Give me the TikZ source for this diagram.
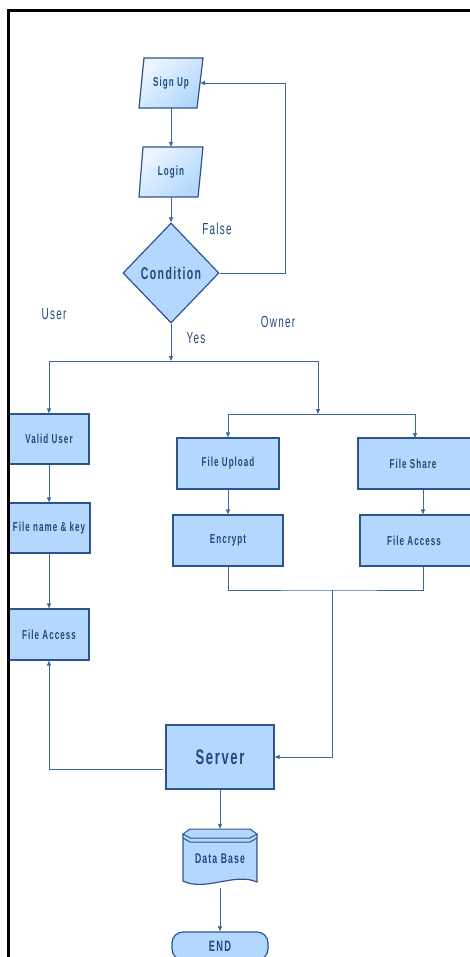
\documentclass[tikz,border=0pt]{standalone}
\usepackage{fontspec}
\setmainfont{Liberation Sans}[FakeStretch=0.62,LetterSpace=8]
\usetikzlibrary{arrows.meta,shapes.geometric}
\definecolor{fillblue}{RGB}{179,215,255}
\definecolor{lightblue}{RGB}{236,245,255}
\definecolor{edgeblue}{RGB}{44,86,138}
\definecolor{lineblue}{RGB}{62,104,154}
\definecolor{txtblue}{RGB}{31,73,125}
\begin{document}
\begin{tikzpicture}[x=1pt,y=-1pt,
  every node/.style={text=txtblue, font=\bfseries\fontsize{13}{13}\selectfont, inner sep=0pt},
  box/.style={draw=edgeblue, line width=1.2pt, fill=fillblue, rectangle},
  para/.style={draw=edgeblue, line width=1.2pt, top color=lightblue, bottom color=fillblue, shading angle=45},
  conn/.style={draw=lineblue, line width=0.9pt},
  arr/.style={conn, -{Triangle[width=4pt,length=5pt]}},
  lbl/.style={font=\fontsize{16}{16}\selectfont, anchor=base, text=txtblue}]
\useasboundingbox (0,0) rectangle (470,957);
\clip (0,0) rectangle (470,957);

% parallelograms
\path[para] (139,108) -- (144,58) -- (203,58) -- (197,108) -- cycle;
\node[minimum width=58pt, minimum height=50pt] (signup) at (171,83) {Sign Up};
\path[para] (139,197) -- (143,147) -- (203,147) -- (198,197) -- cycle;
\node[minimum width=60pt, minimum height=50pt] (login) at (171,172) {Login};

% decision
\node[diamond, draw=edgeblue, line width=1.2pt, fill=fillblue, minimum width=96pt, minimum height=100pt,
      font=\bfseries\fontsize{17}{17}\selectfont] (cond) at (171,273) {Condition};

% boxes
\node[box, minimum width=80pt, minimum height=50pt] (valid) at (49,439) {Valid User};
\node[box, minimum width=82pt, minimum height=50pt] (fname) at (49,528) {File name \& key};
\node[box, minimum width=80pt, minimum height=51pt] (facc1) at (49,634.5) {File Access};
\node[box, minimum width=102pt, minimum height=51pt] (upload) at (228,463.5) {File Upload};
\node[box, minimum width=110pt, minimum height=51pt] (encrypt) at (228,540.5) {Encrypt};
\node[box, minimum width=130pt, minimum height=51pt] (fshare) at (423,463.5) {\hspace*{-20pt}File Share};
\node[box, minimum width=126pt, minimum height=51pt] (facc2) at (423,540.5) {\hspace*{-18pt}File Access};
\node[box, minimum width=108pt, minimum height=64pt, font=\bfseries\fontsize{21}{21}\selectfont] (server) at (220,757) {Server};

% data base
\fill[fillblue] (183,834) -- (183,881) .. controls (205,892) and (235,872) .. (257,882) -- (257,834) -- cycle;
\draw[edgeblue, line width=1.2pt] (183,834) -- (183,881) .. controls (205,892) and (235,872) .. (257,882) -- (257,834);
\filldraw[fill=fillblue, draw=edgeblue, line width=1pt] (183,834) -- (190,829) -- (250,829) -- (257,834) -- (250,838) -- (190,838) -- cycle;
\draw[edgeblue, line width=1pt] (183,838) -- (190,842) -- (250,842) -- (257,838);
\node[minimum width=74pt, minimum height=59pt, font=\bfseries\fontsize{14}{14}\selectfont] (db) at (220,858.5) {Data Base};

% end
\node[box, rounded corners=11pt, minimum width=96pt, minimum height=28pt,
      font=\bfseries\fontsize{15}{15}\selectfont] (endn) at (220,946) {END};

% junctions
\coordinate (fb) at (285,83);
\coordinate (j1) at (171,361);
\coordinate (j2) at (318,414);
\coordinate (fsin) at (415,438);
\coordinate (m) at (332,590);

% connectors
\draw[arr] (signup) -- (login);
\draw[arr] (login.south) -- (cond.north);
\draw[arr] (cond.east) -| (fb) -- (signup.east);
\draw[arr] (cond.south) -- (j1);
\draw[arr] (j1) -| (valid.north);
\draw[arr] (j1) -| (j2);
\draw[arr] (j2) -| (upload.north);
\draw[arr] (j2) -| (fsin);
\draw[arr] (valid) -- (fname);
\draw[arr] (fname) -- (facc1);
\draw[arr] (upload) -- (encrypt);
\draw[arr] (fshare) -- (facc2);
\draw[conn] (encrypt.south) |- (m) -| (facc2.south);
\draw[arr] (m) |- (server.east);
\draw[arr] ([xshift=-2pt,yshift=-12pt]server.west) -| (facc1.south);
\draw[arr] (server) -- (db);
\draw[arr] (db) -- (endn);

% labels
\node[lbl] (lfalse) at (217,235) {False};
\node[lbl] (lyes) at (196,343) {Yes};
\node[lbl] (luser) at (54,319) {User};
\node[lbl] (lowner) at (278,327) {Owner};

% frame
\draw[black, line width=2.5pt] (8.3,962) -- (8.3,10.5) -- (475,10.5);
\end{tikzpicture}
\end{document}
